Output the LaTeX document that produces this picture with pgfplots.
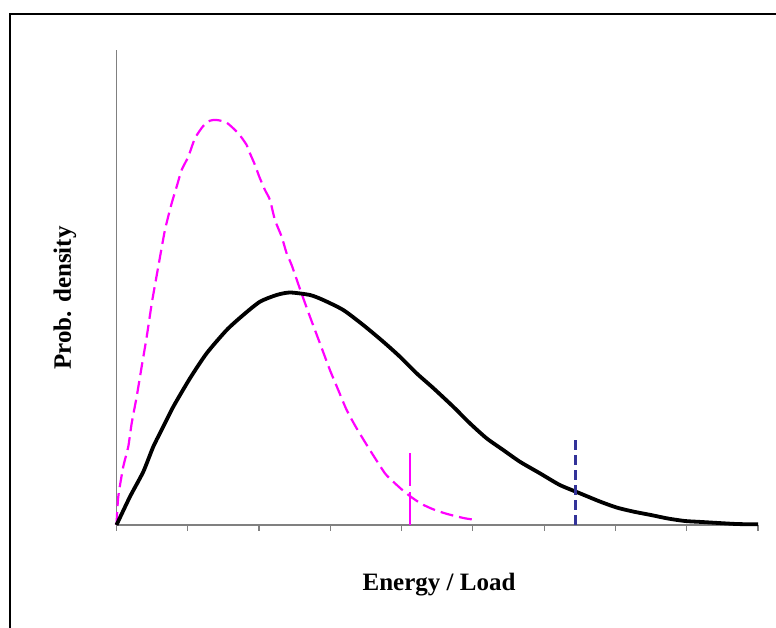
\documentclass[border=0pt]{standalone}
\usepackage{fontspec}
\setmainfont{Liberation Serif}
\usepackage{pgfplots}
\pgfplotsset{compat=1.18}
\definecolor{magline}{RGB}{255,0,255}
\definecolor{blueline}{RGB}{51,51,153}
\definecolor{axgray}{RGB}{128,128,128}
\begin{document}
\begin{tikzpicture}[x=1pt,y=1pt]
\useasboundingbox (0,0) rectangle (776,628);
\draw[line width=2pt] (10,-5) -- (10,614) -- (781,614);
\begin{axis}[
  at={(116.5pt,103pt)}, anchor=south west,
  scale only axis, width=641.5pt, height=475pt,
  xmin=0, xmax=9, ymin=0, ymax=475,
  axis x line*=bottom, axis y line*=left,
  axis line style={-, axgray, line width=1.2pt},
  xtick={0,1,2,3,4,5,6,7,8,9}, xticklabels={},
  ytick=\empty,
  tick align=outside, major tick length=6pt,
  tick style={axgray, line width=1.2pt},
  clip=false,
]
% magenta dashed distribution
\addplot[magline, line width=2.2pt, dash pattern=on 13pt off 6pt, smooth, tension=0.4] coordinates {
(0.000,0) (0.025,28.3) (0.095,58.3) (0.165,78.3) (0.213,101.7) (0.283,128.3)
(0.353,158.3) (0.424,188.3) (0.498,223) (0.586,258.3) (0.680,295) (0.774,321.7)
(0.844,338.3) (0.914,355) (1.007,368.3) (1.101,386.7) (1.217,399) (1.311,404.3)
(1.405,405) (1.546,402.3) (1.708,391.7) (1.826,380) (1.872,371.7) (1.943,360)
(2.003,348.3) (2.083,335) (2.153,325) (2.223,305) (2.317,288.3) (2.387,271.7)
(2.457,260) (2.574,236) (2.714,208.3) (2.854,181.7) (2.994,155) (3.111,135)
(3.229,115) (3.369,96.7) (3.555,75) (3.766,51.7) (3.882,43.3) (4.022,34.3)
(4.140,27.7) (4.281,21) (4.443,15.7) (4.607,11.7) (4.748,9) (4.888,6.7) (5.042,5)
};
% black solid distribution
\addplot[black, line width=3.8pt, smooth, tension=0.4] coordinates {
(0.000,0) (0.189,28.3) (0.376,53.3) (0.516,78.3) (0.656,98.3) (0.797,118.3)
(1.031,146.7) (1.265,171.7) (1.546,195) (1.778,210) (2.013,223.3) (2.247,230)
(2.433,232.5) (2.714,230) (2.900,225) (3.181,215) (3.461,200) (3.742,183.3)
(3.976,168.3) (4.210,151.7) (4.443,137) (4.724,118.3) (4.958,101.7) (5.192,86.7)
(5.425,75) (5.659,63.3) (5.940,51.7) (6.220,40) (6.501,31.7) (6.781,23.5)
(7.020,17.4) (7.258,13.3) (7.497,10) (7.735,6.5) (7.974,4) (8.212,3)
(8.696,1.0) (9.0,0.7)
};
% vertical markers
\addplot[magline, line width=2.2pt, dash pattern=on 33pt off 6pt] coordinates {(4.12,0) (4.12,75)};
\addplot[blueline, line width=2.5pt, dash pattern=on 10pt off 5pt] coordinates {(6.44,0) (6.44,87)};
\end{axis}
\node[font=\fontsize{25}{30}\selectfont\bfseries] at (439,43) {Energy / Load};
\node[font=\fontsize{25}{30}\selectfont\bfseries, rotate=90] at (65,330) {Prob. density};
\end{tikzpicture}
\end{document}
